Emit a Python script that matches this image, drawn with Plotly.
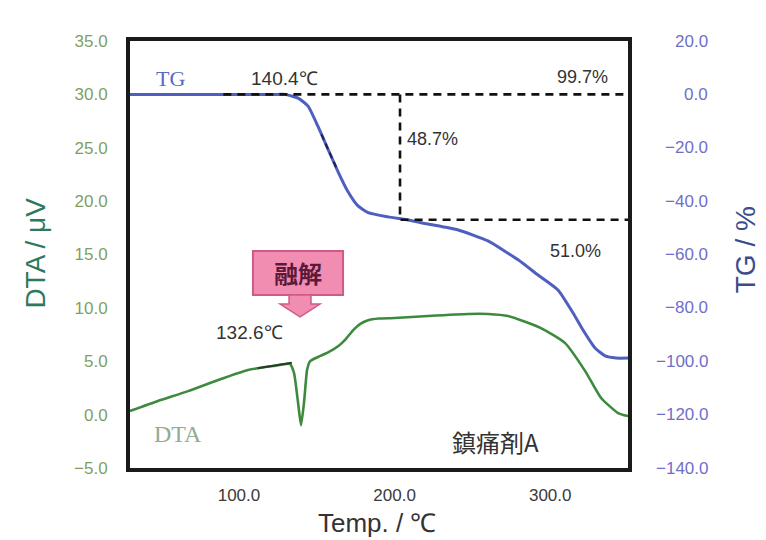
import plotly.graph_objects as go

# ---------------- data ----------------
tg_temp = [30, 125, 129.6, 138, 144.4, 150.8, 157.2, 163.7, 170.1, 176.5, 183, 195.8,
           208.7, 221.5, 240.8, 260, 279.4, 292.2, 305, 314.7, 321.1, 328.8, 335.3,
           342.3, 350]
tg_val = [0, 0, 0, -1.4, -4.4, -12.0, -20.5, -29.0, -36.5, -41.8, -44.3, -45.9,
          -47.1, -48.6, -50.8, -54.9, -62.0, -67.7, -73.3, -81.9, -88.3, -95.0, -98.0,
          -98.8, -98.8]

dta_temp = [30, 48, 67.3, 86.6, 105.8, 121.9, 132.8, 135.4, 138, 139.9, 141.8, 143.8,
            145.7, 150.8, 157, 163.7, 168.2, 173.3, 178, 183, 190, 200, 221.5, 247.2,
            260, 272.9, 294.1, 309.6, 322.4, 332.7, 343.6, 350]
dta_val = [0.34, 1.28, 2.2, 3.24, 4.18, 4.55, 4.74, 3.9, 1.1, -1.0, 1.1, 4.2,
           5.0, 5.4, 5.8, 6.4, 7.0, 7.9, 8.5, 8.85, 9.0, 9.05, 9.24, 9.43,
           9.43, 9.24, 8.1, 6.7, 4.1, 1.56, 0.15, -0.13]

# dashed guide lines (TG axis)
guide_top_x = [90, 350]
guide_top_y = [0, 0]
guide_step_x = [203.5, 203.5, 350]
guide_step_y = [0, -47, -47]

# short tangent marks drawn over the curves
dta_tangent_x = [112, 134]
dta_tangent_y = [4.35, 4.85]
tg_tangent_x = [153, 163]
tg_tangent_y = [-15, -28]

x_ticks = [100, 200, 300]
dta_ticks = [35, 30, 25, 20, 15, 10, 5, 0, -5]
tg_ticks = [20, 0, -20, -40, -60, -80, -100, -120, -140]

X_RANGE = [30, 350]
DTA_RANGE = [-5, 35]
TG_RANGE = [-140, 20]

# ---------------- styles ----------------
SANS = "Liberation Sans, Arial, sans-serif"
SERIF = "Liberation Serif, Times New Roman, serif"
CJK = "Noto Sans CJK JP, sans-serif"
TG_COLOR = "#4f5fc0"
DTA_COLOR = "#3d8a3f"
LEFT_TICK = "#7f9f62"
RIGHT_TICK = "#6f6fc8"
FRAME = "#1a1a1a"
LABEL = "#333333"

fig = go.Figure()

fig.add_trace(go.Scatter(x=dta_temp, y=dta_val, mode="lines",
                         line=dict(color=DTA_COLOR, width=2.6, shape="spline", smoothing=0.5),
                         yaxis="y", showlegend=False, hoverinfo="skip"))
fig.add_trace(go.Scatter(x=tg_temp, y=tg_val, mode="lines",
                         line=dict(color=TG_COLOR, width=3, shape="spline", smoothing=0.5),
                         yaxis="y2", showlegend=False, hoverinfo="skip"))
fig.add_trace(go.Scatter(x=dta_tangent_x, y=dta_tangent_y, mode="lines",
                         line=dict(color="#2a3a2a", width=2),
                         yaxis="y", showlegend=False, hoverinfo="skip"))
fig.add_trace(go.Scatter(x=tg_tangent_x, y=tg_tangent_y, mode="lines",
                         line=dict(color="#222244", width=2, dash="6px,4px"),
                         yaxis="y2", showlegend=False, hoverinfo="skip"))
fig.add_trace(go.Scatter(x=guide_top_x, y=guide_top_y, mode="lines",
                         line=dict(color="#111111", width=2.6, dash="8px,6px"),
                         yaxis="y2", showlegend=False, hoverinfo="skip"))
fig.add_trace(go.Scatter(x=guide_step_x, y=guide_step_y, mode="lines",
                         line=dict(color="#111111", width=2.6, dash="8px,6px"),
                         yaxis="y2", showlegend=False, hoverinfo="skip"))

annotations = []
# right axis tick labels (right-aligned like the reference)
for v in tg_ticks:
    annotations.append(dict(text=f"{v:.1f}".replace("-", "\u2212"), xref="paper", yref="y2",
                            x=1.165, y=v, xanchor="right", yanchor="middle", showarrow=False,
                            font=dict(family=SANS, size=17, color=RIGHT_TICK)))

# axis titles
annotations += [
    dict(text="DTA / μV", xref="paper", yref="paper", x=-0.19, y=0.503, textangle=-90,
         showarrow=False, xanchor="center", yanchor="middle",
         font=dict(family=SANS, size=28, color="#2d7a5a")),
    dict(text="TG / %", xref="paper", yref="paper", x=1.235, y=0.51, textangle=-90,
         showarrow=False, xanchor="center", yanchor="middle",
         font=dict(family=SANS, size=28, color="#3a4c8c")),
    dict(text="Temp. / ℃", xref="paper", yref="paper", x=0.496, y=-0.128,
         showarrow=False, xanchor="center", yanchor="middle", borderpad=0,
         font=dict(family=SANS, size=26, color=LABEL)),
]

# in-plot labels
annotations += [
    dict(text="TG", x=56.3, y=6.1, xref="x", yref="y2", showarrow=False,
         font=dict(family=SERIF, size=22, color="#5a6ac0")),
    dict(text="140.4℃", x=129.5, y=6.1, xref="x", yref="y2", showarrow=False,
         font=dict(family=SANS, size=19, color=LABEL)),
    dict(text="99.7%", x=321, y=6.6, xref="x", yref="y2", showarrow=False,
         font=dict(family=SANS, size=18, color=LABEL)),
    dict(text="48.7%", x=206.5, y=-16.7, xref="x", yref="y2", showarrow=False, xanchor="left",
         font=dict(family=SANS, size=18, color=LABEL)),
    dict(text="51.0%", x=316, y=-58.7, xref="x", yref="y2", showarrow=False,
         font=dict(family=SANS, size=18, color=LABEL)),
    dict(text="132.6℃", x=107, y=7.65, xref="x", yref="y", showarrow=False,
         font=dict(family=SANS, size=19, color=LABEL)),
    dict(text="DTA", x=60.8, y=-1.8, xref="x", yref="y", showarrow=False,
         font=dict(family=SERIF, size=24, color="#93ab93")),
    dict(text="鎮痛剤A", x=265, y=-2.5, xref="x", yref="y", showarrow=False,
         font=dict(family=CJK, size=24, color=LABEL)),
    dict(text="<b>融解</b>", x=138.0, y=13.3, xref="x", yref="y", showarrow=False,
         font=dict(family=CJK, size=24, color="#5a1a3a")),
]

shapes = [
    dict(type="rect", xref="x", yref="y", x0=109.0, x1=166.9, y0=11.21, y1=15.33,
         fillcolor="#f28db2", line=dict(color="#cf5a8a", width=2), layer="below"),
    dict(type="path", xref="x", yref="y",
         path="M 132.2 11.21 L 146.3 11.21 L 146.3 10.36 L 152.1 10.36 L 139.3 9.15 "
              "L 126.4 10.36 L 132.2 10.36 Z",
         fillcolor="#f28db2", line=dict(color="#cf5a8a", width=1.5), layer="below"),
]

fig.update_layout(
    width=766, height=540,
    margin=dict(l=122, r=146, t=33, b=80),
    paper_bgcolor="white", plot_bgcolor="white",
    showlegend=False,
    xaxis=dict(range=X_RANGE, tickvals=x_ticks, ticktext=[f"{t:.1f}" for t in x_ticks],
               showgrid=False, zeroline=False, showline=True, linecolor=FRAME, linewidth=4,
               mirror=True, ticks="", ticklabelstandoff=9,
               tickfont=dict(family=SANS, size=17, color="#3a3a3a")),
    yaxis=dict(range=DTA_RANGE, tickvals=dta_ticks, ticktext=[f"{t:.1f}".replace("-", "\u2212") for t in dta_ticks],
               showgrid=False, zeroline=False, showline=True, linecolor=FRAME, linewidth=4,
               mirror=True, ticks="", ticklabelstandoff=15,
               tickfont=dict(family=SANS, size=17, color=LEFT_TICK)),
    yaxis2=dict(range=TG_RANGE, overlaying="y", side="right", showgrid=False, zeroline=False,
                showline=False, showticklabels=False, ticks=""),
    annotations=annotations,
    shapes=shapes,
)

fig.write_html("out.html")
